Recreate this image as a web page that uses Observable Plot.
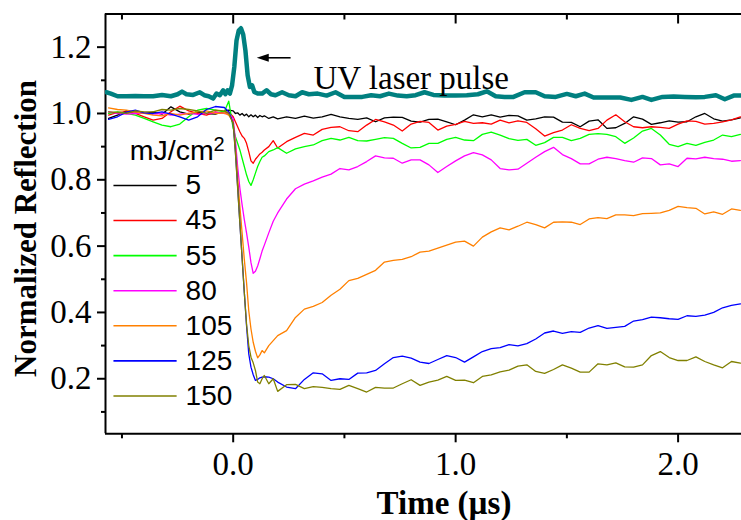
<!DOCTYPE html>
<html><head><meta charset="utf-8">
<script src="https://cdn.jsdelivr.net/npm/d3@7"></script>
<script src="https://cdn.jsdelivr.net/npm/@observablehq/plot@0.6"></script>
<style>
html,body{margin:0;padding:0;background:#fff;}
#chart{width:741px;height:520px;}
</style></head><body><div id="chart"></div>
<script>
// ---------- data ----------
const time = [-0.56,-0.52,-0.48,-0.44,-0.40,-0.36,-0.32,-0.28,-0.24,-0.20,-0.16,-0.12,-0.08,-0.04,
  -0.02,0.00,0.01,0.02,0.03,0.04,0.05,0.06,0.07,0.08,0.09,0.10,0.11,0.12,0.13,0.14,
  0.16,0.18,0.20,
  0.24,0.28,0.32,0.36,0.40,0.44,0.48,0.52,0.56,0.60,0.64,0.68,0.72,0.76,0.80,0.84,0.88,0.92,0.96,1.00,
  1.04,1.08,1.12,1.16,1.20,1.24,1.28,1.32,1.36,1.40,1.44,1.48,1.52,1.56,1.60,1.64,1.68,1.72,1.76,1.80,
  1.84,1.88,1.92,1.96,2.00,2.04,2.08,2.12,2.16,2.20,2.24,2.28];

const fluences = ["5","45","55","80","105","125","150"];
const colors = ["#000000","#ff0000","#00ff00","#ff00ff","#ff8000","#0000ff","#808000"];

const r5 = [0.985,0.995,1.008,1.005,1.000,1.004,0.998,1.020,1.005,0.998,1.003,1.000,0.998,1.006,
  1.010,1.008,1.000,1.002,0.995,1.000,0.993,0.998,0.990,0.996,0.990,0.995,0.988,0.994,0.990,0.993,
  0.985,0.990,0.984,
  0.990,0.985,0.992,0.986,0.990,0.997,0.990,0.985,0.982,0.987,0.975,0.987,0.989,0.988,0.977,0.974,0.982,0.983,0.975,0.966,
  0.980,0.996,0.990,0.996,0.989,0.994,0.993,0.980,0.984,0.990,0.989,0.974,0.973,0.960,0.977,0.981,0.955,0.957,0.970,0.990,
  0.983,0.967,0.972,0.978,0.974,0.975,0.990,1.000,0.984,0.977,0.981,0.987];
const r45 = [0.995,1.003,1.005,1.000,0.990,0.980,0.985,1.005,1.022,1.008,1.000,0.995,1.005,1.000,
  1.005,0.990,0.975,0.960,0.945,0.932,0.925,0.910,0.885,0.857,0.850,0.862,0.870,0.878,0.883,0.890,
  0.900,0.918,0.896,
  0.915,0.928,0.940,0.935,0.952,0.958,0.960,0.948,0.945,0.965,0.982,0.975,0.965,0.947,0.968,0.976,0.973,0.950,0.962,0.967,
  0.976,0.970,0.972,0.968,0.980,0.972,0.978,0.973,0.954,0.932,0.942,0.950,0.966,0.955,0.948,0.955,0.980,0.996,0.975,0.960,
  0.957,0.960,0.958,0.955,0.968,0.978,0.976,0.968,0.970,0.975,0.981,0.990];
const r55 = [1.000,1.005,1.000,0.995,0.985,0.975,0.965,0.960,0.968,0.990,1.010,1.015,1.010,1.005,
  1.037,0.955,0.930,0.910,0.890,0.865,0.840,0.815,0.795,0.783,0.800,0.820,0.840,0.855,0.868,0.872,
  0.885,0.890,0.897,
  0.880,0.893,0.900,0.905,0.918,0.925,0.920,0.928,0.918,0.917,0.922,0.927,0.925,0.910,0.896,0.898,0.910,0.910,0.922,0.928,
  0.920,0.918,0.937,0.944,0.935,0.924,0.919,0.922,0.904,0.912,0.928,0.928,0.918,0.925,0.937,0.939,0.937,0.930,0.910,0.926,
  0.947,0.955,0.935,0.907,0.900,0.910,0.904,0.913,0.920,0.935,0.930,0.937];
const r80 = [1.005,1.000,0.998,1.000,1.002,0.998,1.000,0.995,0.998,1.000,0.997,1.000,1.003,1.000,
  1.000,0.985,0.920,0.840,0.775,0.725,0.680,0.640,0.597,0.550,0.518,0.524,0.540,0.562,0.585,0.603,
  0.640,0.675,0.700,
  0.742,0.773,0.787,0.797,0.808,0.817,0.834,0.830,0.840,0.855,0.872,0.866,0.865,0.850,0.860,0.860,0.845,0.822,0.840,0.857,
  0.872,0.882,0.875,0.860,0.834,0.830,0.832,0.850,0.868,0.885,0.898,0.876,0.864,0.848,0.848,0.862,0.868,0.864,0.858,0.853,
  0.866,0.864,0.845,0.848,0.840,0.865,0.863,0.868,0.864,0.862,0.856,0.858];
const r105 = [1.017,1.012,1.010,1.005,1.000,0.995,0.993,1.000,0.995,1.000,1.005,1.008,1.000,1.002,
  0.995,0.975,0.900,0.810,0.720,0.640,0.560,0.490,0.405,0.350,0.310,0.283,0.263,0.272,0.285,0.278,
  0.300,0.315,0.330,
  0.345,0.385,0.410,0.418,0.430,0.452,0.470,0.496,0.503,0.515,0.527,0.552,0.557,0.560,0.568,0.582,0.585,0.594,0.603,0.612,
  0.615,0.600,0.627,0.643,0.655,0.649,0.660,0.672,0.665,0.655,0.672,0.673,0.672,0.665,0.682,0.686,0.683,0.694,0.694,0.692,
  0.698,0.699,0.700,0.708,0.720,0.716,0.714,0.697,0.703,0.696,0.712,0.708];
const r125 = [0.982,0.990,1.004,1.010,1.002,1.000,1.005,0.998,0.990,0.980,0.990,1.012,1.021,1.018,
  1.005,0.970,0.885,0.780,0.670,0.565,0.460,0.360,0.275,0.235,0.212,0.195,0.198,0.203,0.205,0.206,
  0.205,0.200,0.190,
  0.175,0.170,0.198,0.218,0.215,0.195,0.200,0.198,0.217,0.218,0.225,0.245,0.264,0.268,0.262,0.250,0.246,0.258,0.270,0.264,
  0.250,0.266,0.282,0.291,0.294,0.303,0.299,0.306,0.320,0.338,0.344,0.337,0.342,0.340,0.353,0.360,0.352,0.355,0.358,0.374,
  0.378,0.386,0.384,0.381,0.379,0.390,0.388,0.392,0.400,0.414,0.421,0.426];
const r150 = [1.005,1.003,1.000,1.008,1.005,1.005,1.012,1.010,1.015,1.012,1.008,1.000,1.010,1.008,
  1.000,0.970,0.880,0.775,0.670,0.565,0.460,0.365,0.300,0.265,0.248,0.225,0.190,0.185,0.200,0.210,
  0.185,0.200,0.162,
  0.182,0.183,0.170,0.176,0.174,0.170,0.168,0.180,0.170,0.160,0.174,0.172,0.172,0.185,0.197,0.180,0.190,0.196,0.207,0.195,
  0.196,0.188,0.207,0.212,0.221,0.226,0.238,0.242,0.222,0.216,0.228,0.242,0.232,0.220,0.220,0.245,0.242,0.248,0.236,0.235,
  0.242,0.270,0.282,0.264,0.255,0.255,0.266,0.252,0.242,0.233,0.252,0.247];

const pulseTime = [-0.57,-0.55,-0.52,-0.48,-0.44,-0.40,-0.36,-0.32,-0.28,-0.25,-0.23,-0.21,-0.18,-0.15,-0.13,-0.11,-0.09,-0.075,-0.06,-0.045,
  -0.035,-0.025,-0.015,-0.005,0.005,0.015,0.025,0.035,0.045,0.055,0.065,0.075,0.085,0.095,0.11,0.13,0.15,0.17,0.19,0.22,
  0.25,0.28,0.31,0.34,0.38,0.42,0.46,0.50,0.54,0.58,0.62,0.66,0.70,0.74,0.78,0.82,0.86,0.90,0.95,1.00,
  1.05,1.10,1.14,1.18,1.22,1.26,1.31,1.36,1.40,1.45,1.50,1.54,1.58,1.62,1.66,1.70,1.74,1.79,1.84,1.88,
  1.93,1.98,2.03,2.08,2.12,2.17,2.21,2.25,2.28];
const pulseValue = [1.064,1.060,1.052,1.052,1.053,1.052,1.052,1.056,1.052,1.058,1.066,1.058,1.056,1.064,1.055,1.052,1.045,1.060,1.055,1.070,
  1.058,1.070,1.060,1.085,1.140,1.220,1.250,1.257,1.238,1.190,1.115,1.080,1.085,1.065,1.060,1.060,1.070,1.058,1.055,1.064,
  1.055,1.052,1.064,1.058,1.060,1.054,1.064,1.050,1.050,1.050,1.055,1.052,1.060,1.054,1.052,1.055,1.064,1.056,1.054,1.054,
  1.055,1.058,1.067,1.052,1.050,1.050,1.064,1.064,1.052,1.050,1.059,1.052,1.060,1.048,1.048,1.048,1.048,1.041,1.050,1.041,
  1.050,1.051,1.050,1.049,1.050,1.055,1.043,1.054,1.054];

const xTicks = [0, 1, 2];
const xMinorTicks = [-0.5, 0.5, 1.5];
const yTicks = [0.2, 0.4, 0.6, 0.8, 1.0, 1.2];
const yMinorTicks = [0.1, 0.3, 0.5, 0.7, 0.9, 1.1];
const xDomain = [-0.574, 2.285];
const yDomain = [0.034, 1.30];

const xTitle = "Time (µs)";
const yTitle = "Normalized Reflection";
const legendTitle = "mJ/cm";
const legendSup = "2";
const pulseLabel = "UV laser pulse";

// annotation layout (data units)
const legendX1 = -0.536, legendX2 = -0.252, legendTextX = -0.214;
const legendTop = 0.783, legendStep = 0.1058;
const legendTitleX = -0.465, legendTitleY = 0.860, legendSupX = -0.088, legendSupY = 0.929;
const pulseLabelX = 0.361, pulseLabelY = 1.0745;
const arrowX1 = 0.258, arrowX2 = 0.106, arrowY = 1.168;

// ---------- build ----------
const series = [r5, r45, r55, r80, r105, r125, r150];
const rows = series.flatMap((vals, k) => vals.map((v, i) => ({t: time[i], r: v, f: fluences[k]})));
const pulse = pulseTime.map((t, i) => ({t, r: pulseValue[i]}));
const legendRows = fluences.map((f, i) => ({f, y: legendTop - i * legendStep}));

const serif = "'Liberation Serif', 'Times New Roman', serif";
const sans = "'Liberation Sans', Arial, sans-serif";

const leftTriangle = {
  draw(ctx) { ctx.moveTo(0, 0); ctx.lineTo(12, -4); ctx.lineTo(12, 4); ctx.closePath(); }
};

const chart = Plot.plot({
  width: 741,
  height: 520,
  marginLeft: 105,
  marginRight: 0,
  marginTop: 13.5,
  marginBottom: 86.7,
  style: {background: "white", color: "black", overflow: "visible"},
  x: {domain: xDomain},
  y: {domain: yDomain},
  color: {domain: fluences, range: colors},
  marks: [
    // frame (top, bottom, left)
    Plot.ruleY([yDomain[0], yDomain[1]], {stroke: "black", strokeWidth: 2}),
    Plot.ruleX([xDomain[0]], {stroke: "black", strokeWidth: 2}),
    // axes
    Plot.axisY(yTicks, {anchor: "left", tickSize: 8, tickPadding: 6, strokeWidth: 2,
      tickFormat: d3.format(".1f"), fontSize: 33, fontFamily: serif, label: null}),
    Plot.axisY(yMinorTicks, {anchor: "left", tickSize: 4, strokeWidth: 2, tickFormat: () => "", label: null}),
    Plot.axisX(xTicks, {anchor: "bottom", tickSize: 9, tickPadding: 8.3, strokeWidth: 2,
      tickFormat: d3.format(".1f"), fontSize: 33, fontFamily: serif, label: null}),
    Plot.axisX(xMinorTicks, {anchor: "bottom", tickSize: 5, strokeWidth: 2, tickFormat: () => "", label: null}),
    Plot.axisX(xTicks, {anchor: "top", tickSize: -9, strokeWidth: 2, tickFormat: () => "", label: null}),
    Plot.axisX(xMinorTicks, {anchor: "top", tickSize: -5, strokeWidth: 2, tickFormat: () => "", label: null}),
    // axis titles
    Plot.text([xTitle], {frameAnchor: "bottom", text: d => d, dx: 20.5, dy: 80, lineAnchor: "bottom",
      textAnchor: "middle", fontSize: 33, fontWeight: "bold", fontFamily: serif, fill: "black"}),
    Plot.text([yTitle], {frameAnchor: "left", text: d => d, rotate: -90, dx: -70, dy: 4.6, lineAnchor: "bottom",
      textAnchor: "middle", fontSize: 31, fontWeight: "bold", fontFamily: serif, fill: "black"}),
    // data
    Plot.line(rows, {x: "t", y: "r", z: "f", stroke: "f", strokeWidth: 1.3, clip: true}),
    Plot.line(pulse, {x: "t", y: "r", stroke: "#008080", strokeWidth: 4.5, strokeLinejoin: "round", clip: true}),
    // annotation
    Plot.text([pulseLabel], {x: () => pulseLabelX, y: () => pulseLabelY, text: d => d, textAnchor: "start",
      lineAnchor: "bottom", fontSize: 33, fontFamily: serif, fill: "black"}),
    Plot.link([arrowY], {x1: () => arrowX1, x2: () => arrowX2 + 0.03, y1: d => d, y2: d => d, stroke: "black", strokeWidth: 1.6}),
    Plot.dot([arrowY], {x: () => arrowX2, y: d => d, symbol: leftTriangle, fill: "black", stroke: "none", r: 4}),
    // legend
    Plot.text([legendTitle], {x: () => legendTitleX, y: () => legendTitleY, text: d => d, textAnchor: "start",
      lineAnchor: "bottom", fontSize: 28.5, fontFamily: sans, fill: "black"}),
    Plot.text([legendSup], {x: () => legendSupX, y: () => legendSupY, text: d => d, textAnchor: "start",
      lineAnchor: "top", fontSize: 20, fontFamily: sans, fill: "black"}),
    Plot.ruleY(legendRows, {y: "y", x1: () => legendX1, x2: () => legendX2, stroke: "f", strokeWidth: 1.6}),
    Plot.text(legendRows, {x: () => legendTextX, y: "y", text: "f", textAnchor: "start", lineAnchor: "middle",
      fontSize: 28, fontFamily: sans, fill: "black"})
  ]
});
document.getElementById("chart").appendChild(chart);
</script>
</body></html>
